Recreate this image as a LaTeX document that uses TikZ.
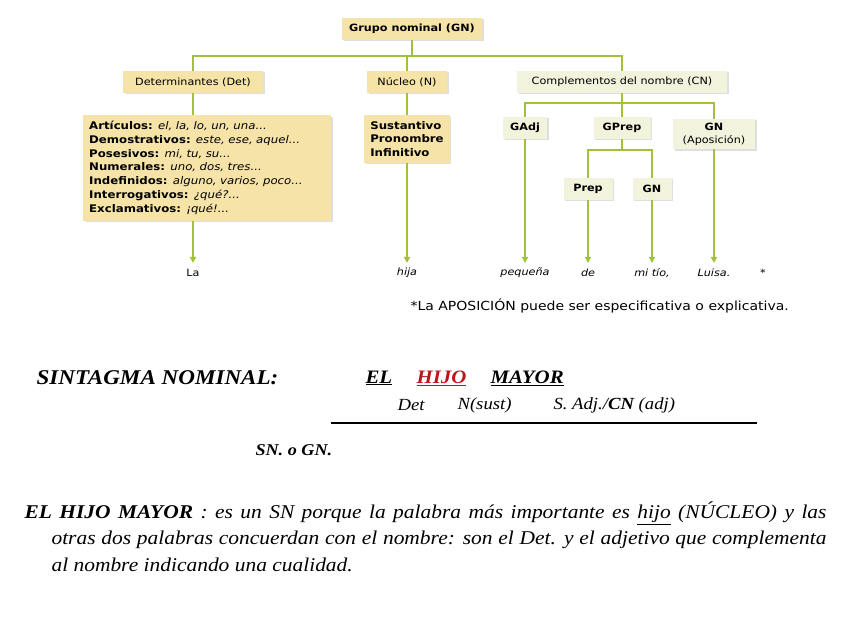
\documentclass[tikz,border=0pt]{standalone}
\usepackage{fontspec}
\setmainfont{Liberation Serif}
\newfontfamily\diagfont[FakeStretch=1.12]{DejaVu Sans}
\newfontfamily\corsiva[FakeStretch=1.1]{Liberation Serif}
\usepackage{tikz}
\usetikzlibrary{arrows.meta,positioning,shadows}

\definecolor{rama}{HTML}{A2C13A}
\definecolor{detfill}{HTML}{F6E3A8}
\definecolor{cnfill}{HTML}{F1F3DC}
\definecolor{rojo}{HTML}{C0141C}

\begin{document}
\begin{tikzpicture}[x=1pt,y=-1pt,font=\diagfont\fontsize{10}{12}\selectfont,
  caja/.style={fill=detfill,inner sep=4pt,minimum height=22pt,drop shadow={opacity=0.25,shadow xshift=1.5pt,shadow yshift=-1.5pt}},
  cajacn/.style={caja,fill=cnfill},
  rm/.style={draw=rama,line width=1.6pt},
  >={Triangle[length=6pt,width=6pt]}]
  \useasboundingbox (0,0) rectangle (848,636);

  % arbol
  \node[caja,minimum width=140pt] (gn) at (412,29) {\textbf{Grupo nominal (GN)}};
  \node[caja,minimum width=140pt] (det) at (193,82) {Determinantes (Det)};
  \node[caja,minimum width=80pt] (nuc) at (407,82) {Núcleo (N)};
  \node[cajacn,minimum width=210pt] (cn) at (622,82) {Complementos del nombre (CN)};

  \node[caja,anchor=north west,align=left,text width=236pt,inner sep=6pt,
    font=\diagfont\fontsize{10.5}{13.8}\selectfont] (lista) at (83,115)
    {\textbf{Artículos:} \textit{el, la, lo, un, una...}\\
     \textbf{Demostrativos:} \textit{este, ese, aquel...}\\
     \textbf{Posesivos:} \textit{mi, tu, su...}\\
     \textbf{Numerales:} \textit{uno, dos, tres...}\\
     \textbf{Indefinidos:} \textit{alguno, varios, poco...}\\
     \textbf{Interrogativos:} \textit{¿qué?...}\\
     \textbf{Exclamativos:} \textit{¡qué!...}};
  \node[caja,anchor=north,align=left,minimum width=82pt,inner sep=6pt,
    font=\diagfont\fontsize{10.5}{13.8}\selectfont] (sust) at (407,115)
    {\textbf{Sustantivo}\\\textbf{Pronombre}\\\textbf{Infinitivo}};

  \node[cajacn,minimum width=44pt] (gadj) at (525,128) {\textbf{GAdj}};
  \node[cajacn,minimum width=57pt] (gprep) at (622,128) {\textbf{GPrep}};
  \node[cajacn,minimum width=82pt,align=center,font=\diagfont\fontsize{10}{13}\selectfont] (apos) at (714,134) {\textbf{GN}\\(Aposición)};
  \node[cajacn,minimum width=49pt] (prep) at (588,189) {\textbf{Prep}};
  \node[cajacn,minimum width=39pt] (gnb) at (652,189) {\textbf{GN}};

  % palabras
  \node (la) at (193,273) {La};
  \node (hija) at (407,273) {\textit{hija}};
  \node (peq) at (525,273) {\textit{pequeña}};
  \node (de) at (588,273) {\textit{de}};
  \node (mitio) at (652,273) {\textit{mi tío,}};
  \node (luisa) at (714,273) {\textit{Luisa.}};
  \node (ast) at (763,273) {*};
  \node[anchor=west,font=\diagfont\fontsize{12.5}{14}\selectfont] (nota) at (407,306)
    {*La APOSICIÓN puede ser especificativa o explicativa.};

  \coordinate (fla) at (0,263);
  \draw[rm] (gn.south) -- ++(0,16) coordinate (h1);
  \draw[rm] (det.north) |- (h1) -| (cn.north);
  \draw[rm] (h1) -| (nuc.north);
  \draw[rm] (det) -- (lista.north -| det);
  \draw[rm] (nuc) -- (sust);
  \draw[rm] (cn.south) -- ++(0,10) coordinate (h2);
  \draw[rm] (gadj.north) |- (h2) -| (apos.north);
  \draw[rm] (h2) -- (gprep);
  \draw[rm] (gprep.south) -- ++(0,11) coordinate (h3);
  \draw[rm] (prep.north) |- (h3) -| (gnb.north);
  \draw[rm,->] (lista.south -| det) -- (det |- fla);
  \draw[rm,->] (sust) -- (sust.south |- fla);
  \draw[rm,->] (gadj) -- (gadj.south |- fla);
  \draw[rm,->] (prep) -- (prep.south |- fla);
  \draw[rm,->] (gnb) -- (gnb.south |- fla);
  \draw[rm,->] (apos) -- (apos.south |- fla);

  % analisis
  \begin{scope}[font=\corsiva\fontsize{19}{22}\selectfont\itshape]
    \node[anchor=west,font=\corsiva\fontsize{21}{24}\selectfont\itshape] (sintagma) at (33,378) {\textbf{SINTAGMA NOMINAL:}};
    \node[anchor=west] (el) at (362,378) {\textbf{\underline{EL}}};
    \node[anchor=west,text=rojo] (hijo) at (413,378) {\textbf{\underline{HIJO}}};
    \node[anchor=west] (mayor) at (487,378) {\textbf{\underline{MAYOR}}};
    \node[anchor=west,font=\corsiva\fontsize{17}{19}\selectfont\itshape] (fdet) at (394,405) {Det};
    \node[anchor=west,font=\corsiva\fontsize{17}{19}\selectfont\itshape] (fn) at (454,405) {N(sust)};
    \node[anchor=west,font=\corsiva\fontsize{17}{19}\selectfont\itshape] (fadj) at (550,405) {S. Adj./\textbf{CN} (adj)};
    \node[anchor=west,font=\corsiva\fontsize{16.5}{18}\selectfont\itshape] (sn) at (252,450) {\textbf{SN. o GN.}};
    \coordinate (r1) at (331,423);
    \coordinate (r2) at (757,423);
    \node[anchor=north west,text width=802pt,align=justify,font=\corsiva\fontsize{19.5}{26.5}\selectfont\itshape] (texto) at (21,498)
      {\hangindent=27pt\hangafter=1 \textbf{EL HIJO MAYOR} : es un SN porque la palabra más importante es \underline{hijo} (NÚCLEO) y las\linebreak otras dos palabras concuerdan con el nombre: son el Det. y el adjetivo que complementa\linebreak al nombre indicando una cualidad.\par};
  \end{scope}
  \draw[line width=2.4pt] (r1) -- (r2);
\end{tikzpicture}
\end{document}
